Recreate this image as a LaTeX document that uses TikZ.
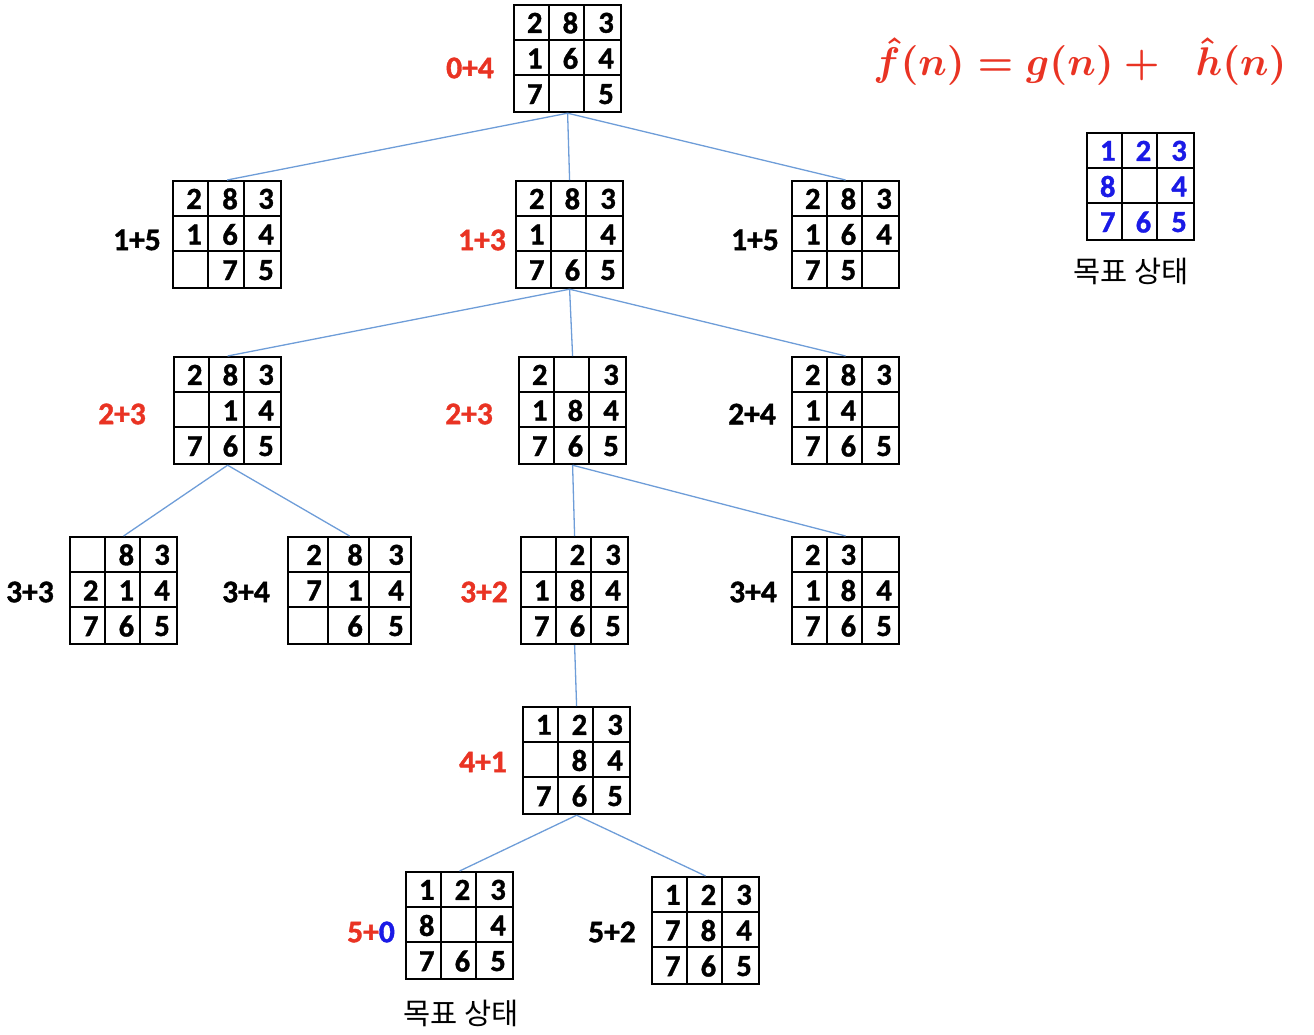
\documentclass[tikz,border=0pt]{standalone}
\usepackage{fontspec}
\setmainfont{Carlito}
\newfontfamily\heavy{Carlito}[UprightFont=* Bold, FakeBold=1.2]
\newfontfamily\kr{Noto Sans CJK KR}
\usetikzlibrary{calc}
\definecolor{tred}{HTML}{E93323}
\definecolor{tblue}{HTML}{1A1AE6}
\definecolor{edge}{HTML}{6E9DD8}
\tikzset{
  gridbox/.style={draw=black, line width=2.2pt, inner sep=0pt, anchor=north west},
  gridline/.style={draw=black, line width=1.8pt},
  digit/.style={font=\heavy\fontsize{30.5}{32}\selectfont, inner sep=0pt, anchor=east},
  lbl/.style={font=\heavy\fontsize{31.5}{33}\selectfont, inner sep=0pt},
  captext/.style={font=\kr\fontsize{29.5}{32}\selectfont, inner sep=0pt},
  conn/.style={draw=edge, line width=1.3pt},
}
\newcommand\puzzle[6]{% name, x, y, width, digits, colour
  \node[gridbox, minimum width=#4pt, minimum height=107pt] (#1) at (#2,#3) {};
  \draw[gridline] ({#2+#4/3},#3) -- ++(0,107);
  \draw[gridline] ({#2+2*#4/3},#3) -- ++(0,107);
  \draw[gridline] (#2,{#3+107/3}) -- ++(#4,0);
  \draw[gridline] (#2,{#3+2*107/3}) -- ++(#4,0);
  \foreach \d [count=\i from 0] in {#5} {
    \pgfmathsetmacro{\cx}{#2+(mod(\i,3)+1)*#4/3-6}
    \pgfmathsetmacro{\cy}{#3+(floor(\i/3)+0.5)*107/3+1}
    \node[digit, text=#6] at (\cx,\cy) {\d};
  }
}
\begin{document}
\begin{tikzpicture}[x=1pt,y=-1pt]
\path[use as bounding box] (0,0) rectangle (1314,1034);
% grids
\puzzle{r}{513}{4}{107}{2,8,3,1,6,4,7,{},5}{black}
\puzzle{a}{172}{180}{108}{2,8,3,1,6,4,{},7,5}{black}
\puzzle{b}{515}{180}{107}{2,8,3,1,{},4,7,6,5}{black}
\puzzle{c}{791}{180}{107}{2,8,3,1,6,4,7,5,{}}{black}
\puzzle{d}{173}{356}{107}{2,8,3,{},1,4,7,6,5}{black}
\puzzle{e}{518}{356}{107}{2,{},3,1,8,4,7,6,5}{black}
\puzzle{f}{791}{356}{107}{2,8,3,1,4,{},7,6,5}{black}
\puzzle{g}{69}{536}{107}{{},8,3,2,1,4,7,6,5}{black}
\puzzle{h}{287}{536}{123}{2,8,3,7,1,4,{},6,5}{black}
\puzzle{i}{520}{536}{107}{{},2,3,1,8,4,7,6,5}{black}
\puzzle{j}{791}{536}{107}{2,3,{},1,8,4,7,6,5}{black}
\puzzle{k}{522}{706}{107}{1,2,3,{},8,4,7,6,5}{black}
\puzzle{l}{405}{871}{107}{1,2,3,8,{},4,7,6,5}{black}
\puzzle{m}{651}{876}{107}{1,2,3,7,8,4,7,6,5}{black}
\puzzle{goal}{1086}{132}{107}{1,2,3,8,{},4,7,6,5}{tblue}
% labels
\node[lbl, text=tred] (lr) at (470,68) {0+4};
\node[lbl] (la) at (137,240) {1+5};
\node[lbl, text=tred] (lb) at (482,240) {1+3};
\node[lbl] (lc) at (755,240) {1+5};
\node[lbl, text=tred] (ld) at (122,414) {2+3};
\node[lbl, text=tred] (le) at (469,414) {2+3};
\node[lbl] (lf) at (752,414) {2+4};
\node[lbl] (lg) at (30,592) {3+3};
\node[lbl] (lh) at (246,592) {3+4};
\node[lbl, text=tred] (li) at (484,592) {3+2};
\node[lbl] (lj) at (753,592) {3+4};
\node[lbl, text=tred] (lk) at (483,762) {4+1};
\node[lbl] (ll) at (371,932) {\textcolor{tred}{5+}\textcolor{tblue}{0}};
\node[lbl] (lm) at (612,932) {5+2};
\node[captext] (capl) at (461,1013) {목표 상태};
\node[captext] (capg) at (1131,271) {목표 상태};
\node[inner sep=0pt, text=tred, scale=4.0, transform shape, font=\boldmath] (formula) at (1080,62) {$\hat{f}(n)=g(n)+\;\;\hat{h}(n)$};
% connectors
\draw[conn] (r.south) -- (a.north);
\draw[conn] (r.south) -- (b.north);
\draw[conn] (r.south) -- (c.north);
\draw[conn] (b.south) -- (d.north);
\draw[conn] (b.south) -- (e.north);
\draw[conn] (b.south) -- (f.north);
\draw[conn] (d.south) -- (g.north);
\draw[conn] (d.south) -- (h.north);
\draw[conn] (e.south) -- (i.north);
\draw[conn] (e.south) -- (j.north);
\draw[conn] (i.south) -- (k.north);
\draw[conn] (k.south) -- (l.north);
\draw[conn] (k.south) -- (m.north);
\end{tikzpicture}
\end{document}
